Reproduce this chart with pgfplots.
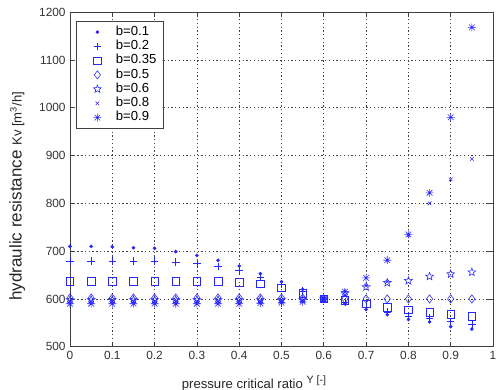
\documentclass[border=0pt]{standalone}
\usepackage{fontspec}
\setmainfont{Liberation Sans}
\usepackage{pgfplots}
\usepackage{pgfplotstable}
\pgfplotsset{compat=1.18}
\usetikzlibrary{plotmarks}

\pgfdeclareplotmark{pentagram}{%
  \pgfpathmoveto{\pgfpointpolar{90}{\pgfplotmarksize}}%
  \pgfpathlineto{\pgfpointpolar{126}{0.42\pgfplotmarksize}}%
  \pgfpathlineto{\pgfpointpolar{162}{\pgfplotmarksize}}%
  \pgfpathlineto{\pgfpointpolar{198}{0.42\pgfplotmarksize}}%
  \pgfpathlineto{\pgfpointpolar{234}{\pgfplotmarksize}}%
  \pgfpathlineto{\pgfpointpolar{270}{0.42\pgfplotmarksize}}%
  \pgfpathlineto{\pgfpointpolar{306}{\pgfplotmarksize}}%
  \pgfpathlineto{\pgfpointpolar{342}{0.42\pgfplotmarksize}}%
  \pgfpathlineto{\pgfpointpolar{18}{\pgfplotmarksize}}%
  \pgfpathlineto{\pgfpointpolar{54}{0.42\pgfplotmarksize}}%
  \pgfpathclose
  \pgfusepathqstroke}

\pgfdeclareplotmark{mstar}{%
  \pgfpathmoveto{\pgfqpoint{-\pgfplotmarksize}{0pt}}\pgfpathlineto{\pgfqpoint{\pgfplotmarksize}{0pt}}%
  \pgfpathmoveto{\pgfqpoint{0pt}{-\pgfplotmarksize}}\pgfpathlineto{\pgfqpoint{0pt}{\pgfplotmarksize}}%
  \pgfpathmoveto{\pgfqpoint{-0.707\pgfplotmarksize}{-0.707\pgfplotmarksize}}\pgfpathlineto{\pgfqpoint{0.707\pgfplotmarksize}{0.707\pgfplotmarksize}}%
  \pgfpathmoveto{\pgfqpoint{-0.707\pgfplotmarksize}{0.707\pgfplotmarksize}}\pgfpathlineto{\pgfqpoint{0.707\pgfplotmarksize}{-0.707\pgfplotmarksize}}%
  \pgfusepathqstroke}

\pgfplotstableread{
Y    b01  b02  b035 b05  b06  b08  b09
0.00 710  679  637  602  598  595  590
0.05 710  679  637  602  598  595  590
0.10 709  679  637  602  598  595  590
0.15 707  679  637  602  598  595  590
0.20 706  679  637  602  598  595  590
0.25 699  677  637  602  598  595  590
0.30 691  674  637  602  598  595  590
0.35 681  668  637  602  598  595  590
0.40 669  659  635  602  598  595  590
0.45 653  646  632  602  598  595  591
0.50 636  630  623  602  598  596  592
0.55 620  617  612  602  599  597  594
0.60 600  600  600  600  600  600  600
0.65 590  594  597  600  612  608  615
0.70 578  583  590  600  625  628  644
0.75 567  573  583  600  634  636  681
0.80 557  564  577  600  638  733  735
0.85 552  560  572  600  647  800  822
0.90 542  553  568  600  652  850  980
0.95 537  548  564  600  656  893  1168
}\datatable

\definecolor{mblue}{rgb}{0.15,0.15,1}
\definecolor{axgray}{rgb}{0.25,0.25,0.25}

\begin{document}
\begin{tikzpicture}
\useasboundingbox (-56pt,-34.56pt) rectangle (342.4pt,277.4pt);
\clip (-56pt,-34.56pt) rectangle (342.4pt,277.4pt);
\begin{axis}[
  at={(0,0)}, anchor=south west,
  scale only axis, width=338.4pt, height=267.7pt,
  xmin=0, xmax=1, ymin=500, ymax=1200,
  xtick={0,0.1,0.2,0.3,0.4,0.5,0.6,0.7,0.8,0.9,1},
  xticklabels={0,0.1,0.2,0.3,0.4,0.5,0.6,0.7,0.8,0.9,1},
  ytick={500,600,700,800,900,1000,1100,1200},
  /pgf/number format/assume math mode=true,
  /pgf/number format/set thousands separator={},
  ticklabel style={font=\fontsize{9.5}{10}\selectfont, text=black!80},
  tick align=inside, major tick length=4pt,
  tick style={axgray, line width=0.6pt},
  axis line style={axgray, line width=0.7pt},
  grid=major,
  major grid style={axgray, line width=0.6pt, dash pattern=on 1.1pt off 1.9pt},
  xlabel={pressure critical ratio \raisebox{4.5pt}{\fontsize{8.5}{10}\selectfont Y [-]}},
  xlabel style={at={(axis description cs:0.435,0)}, anchor=base, yshift=-33.8pt,
    font=\fontsize{10.5}{12}\selectfont, text=black!85},
  ylabel={hydraulic resistance {\fontsize{10.5}{12}\selectfont Kv [m\textsuperscript{3}/h]}},
  ylabel style={at={(axis description cs:-0.125,0.45)}, anchor=center,
    font=\fontsize{13.6}{15}\selectfont, text=black!85},
  legend cell align=left,
  legend style={at={(axis description cs:0,1)}, anchor=north west,
    xshift=4.8pt, yshift=-6.8pt, draw=axgray, line width=0.6pt,
    inner xsep=5pt, inner ysep=3.8pt,
    font=\fontsize{10.5}{12}\selectfont,
    row sep=1.3pt, column sep=3pt,
    nodes={inner sep=0pt, text height=7.6pt, text depth=2.5pt, text width=33pt}},
  legend image code/.code={\path (0pt,0pt) (23.2pt,0pt);\draw[mark repeat=2,mark phase=2] plot coordinates {(0pt,0pt)(11.6pt,0pt)(23.2pt,0pt)};},
  every axis plot/.append style={only marks, color=mblue, line width=0.45pt,
    mark options={solid, draw=mblue, fill=mblue}},
]
\addplot[mark=*, mark size=1.2pt] table[x=Y,y=b01]{\datatable};
\addlegendentry{b=0.1}
\addplot[mark=+, mark size=3pt] table[x=Y,y=b02]{\datatable};
\addlegendentry{b=0.2}
\addplot[mark=square, mark size=3pt] table[x=Y,y=b035]{\datatable};
\addlegendentry{b=0.35}
\addplot[mark=diamond, mark size=3.3pt] table[x=Y,y=b05]{\datatable};
\addlegendentry{b=0.5}
\addplot[mark=pentagram, mark size=3.3pt] table[x=Y,y=b06]{\datatable};
\addlegendentry{b=0.6}
\addplot[mark=x, mark size=2pt] table[x=Y,y=b08]{\datatable};
\addlegendentry{b=0.8}
\addplot[mark=mstar, mark size=3.2pt] table[x=Y,y=b09]{\datatable};
\addlegendentry{b=0.9}
\end{axis}
\end{tikzpicture}
\end{document}
